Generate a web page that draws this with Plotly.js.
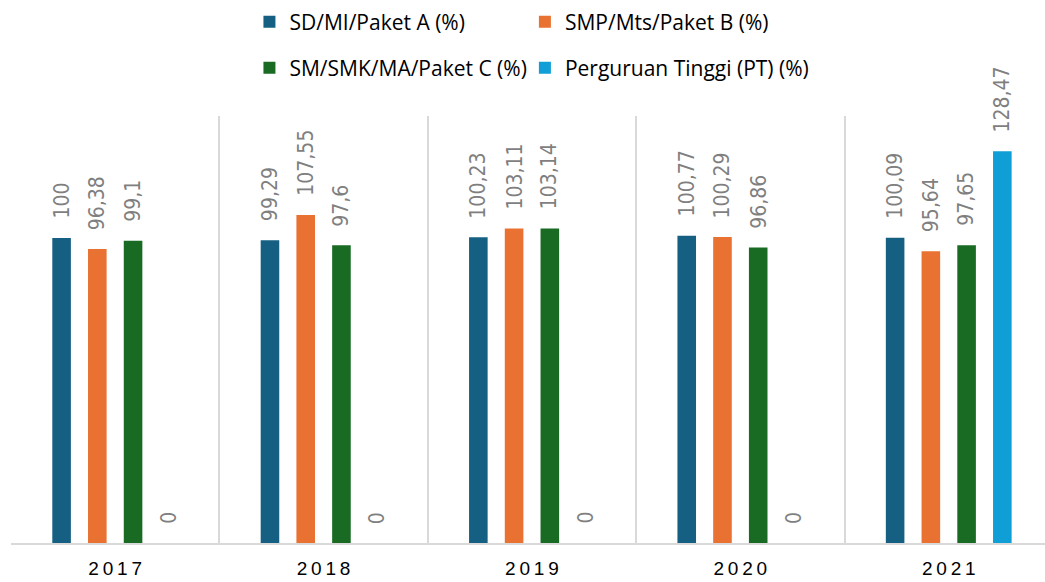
<!DOCTYPE html>
<html>
<head>
<meta charset="utf-8">
<script src="https://cdn.plot.ly/plotly-3.0.1.min.js"></script>
<style>html,body{margin:0;padding:0;background:#fff;}#chart{width:1045px;height:582px;}</style>
</head>
<body>
<div id="chart"></div>
<script>
const years = ['2017', '2018', '2019', '2020', '2021'];
const tickLabels = ['2\u20090\u20091\u20097', '2\u20090\u20091\u20098', '2\u20090\u20091\u20099', '2\u20090\u20092\u20090', '2\u20090\u20092\u20091'];
const seriesNames = ['SD/MI/Paket A (%)', 'SMP/Mts/Paket B (%)', 'SM/SMK/MA/Paket C (%)', 'Perguruan Tinggi (PT) (%)'];
const sdValues = [100, 99.29, 100.23, 100.77, 100.09];
const smpValues = [96.38, 107.55, 103.11, 100.29, 95.64];
const smValues = [99.1, 97.6, 103.14, 96.86, 97.65];
const ptValues = [0, 0, 0, 0, 128.47];
const colors = ['#156082', '#E97132', '#196B24', '#0F9ED5'];

const allValues = [sdValues, smpValues, smValues, ptValues];
const bargap = 0.314;
const slot = (1 - bargap) / allValues.length;
const fmt = v => String(v).replace('.', ',');
const legendIds = ['legend', 'legend2', 'legend3', 'legend4'];

const traces = allValues.map((vals, s) => ({
  type: 'bar',
  name: seriesNames[s],
  x: years,
  y: vals,
  marker: {color: colors[s]},
  legend: legendIds[s],
  hoverinfo: 'skip'
}));

const annotations = [];
allValues.forEach((vals, s) => {
  vals.forEach((v, i) => {
    annotations.push({
      xref: 'x', yref: 'y',
      x: i + (s - (allValues.length - 1) / 2) * slot,
      y: v,
      text: fmt(v),
      textangle: -90,
      showarrow: false,
      xanchor: 'center',
      yanchor: 'bottom',
      yshift: 17,
      font: {family: '"Liberation Sans Narrow", "DejaVu Sans Condensed", sans-serif', size: 21, color: '#7f7f7f'}
    });
  });
});

const legendFont = {family: '"Open Sans", sans-serif', size: 21, color: '#000000'};
const legendPos = [[0.2306, 1.22], [0.497, 1.22], [0.2306, 1.112], [0.497, 1.112]];
const layout = {
  width: 1045,
  height: 582,
  margin: {l: 11, r: 0, t: 116, b: 39, pad: 0},
  paper_bgcolor: '#ffffff',
  plot_bgcolor: '#ffffff',
  barmode: 'group',
  bargap: bargap,
  bargroupgap: 0.48,
  showlegend: true,
  xaxis: {
    type: 'category',
    range: [-0.5, 4.462],
    tickmode: 'array',
    tickvals: years,
    ticktext: tickLabels,
    tickson: 'boundaries',
    ticks: '',
    showgrid: true,
    gridcolor: '#d9d9d9',
    gridwidth: 2,
    showline: true,
    linecolor: '#d9d9d9',
    linewidth: 2,
    ticklabelstandoff: 7,
    tickfont: {family: '"Liberation Sans", sans-serif', size: 19, color: '#000000'},
    fixedrange: true
  },
  yaxis: {
    range: [0, 140],
    visible: false,
    showgrid: false,
    zeroline: false,
    fixedrange: true
  },
  annotations: annotations
};
legendIds.forEach((id, k) => {
  layout[id] = {
    orientation: 'h', x: legendPos[k][0], xanchor: 'left', y: legendPos[k][1], yanchor: 'middle',
    font: legendFont, itemwidth: 30, bgcolor: 'rgba(0,0,0,0)', itemclick: false
  };
});

Plotly.newPlot('chart', traces, layout, {displayModeBar: false, staticPlot: true});
</script>
</body>
</html>
